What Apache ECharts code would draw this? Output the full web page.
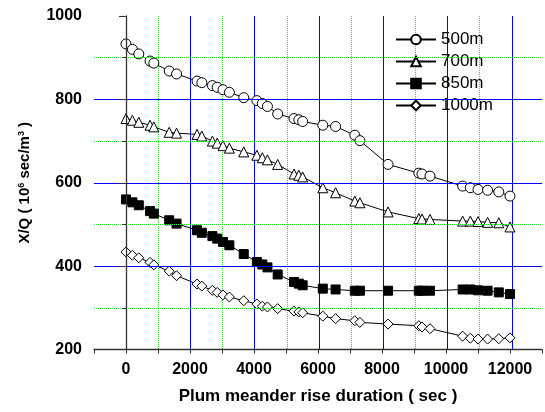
<!DOCTYPE html>
<html>
<head>
<meta charset="utf-8">
<script src="https://cdn.jsdelivr.net/npm/echarts@6/dist/echarts.min.js"></script>
<style>
  html, body { margin: 0; padding: 0; background: #fff; }
  #chart { width: 545px; height: 412px; }
</style>
</head>
<body>
<div id="chart"></div>
<script>
// rise duration (sec), shared by all four curves
const durations = [0, 200, 400, 750, 870, 1350, 1580, 2220, 2370, 2700, 2850, 3030, 3230, 3680, 4090, 4260, 4420, 4740,
  5250, 5400, 5520, 6150, 6550, 7150, 7310, 8190, 9150, 9250, 9500, 10520, 10760, 11000, 11300, 11650, 12000];

const xq500 = [933, 920, 909, 892, 887, 868, 861, 844, 840, 833, 829, 823, 817, 804, 797, 790, 783, 765,
  754, 751, 747, 738, 735, 714, 701, 644, 623, 621, 616, 592, 588, 584, 582, 578, 568];
const xq700 = [754, 750, 745, 738, 734, 721, 719, 716, 712, 700, 695, 689, 683, 674, 666, 660, 655, 644,
  621, 618, 614, 588, 576, 556, 552, 530, 514, 513, 512, 508, 508, 507, 505, 504, 494];
const xq850 = [560, 553, 546, 532, 526, 510, 502, 486, 480, 472, 466, 458, 450, 429, 410, 404, 397, 380,
  362, 358, 354, 346, 344, 341, 341, 341, 341, 341, 341, 344, 344, 342, 341, 337, 333];
const xq1000 = [434, 426, 420, 409, 403, 388, 377, 357, 352, 342, 337, 331, 326, 317, 309, 304, 302, 298,
  292, 290, 288, 280, 274, 269, 265, 261, 257, 254, 250, 232, 227, 225, 225, 226, 228];

const seriesNames = ['500m', '700m', '850m', '1000m'];
const xTicks = [-1000, 13000, 1000];   // min, max, step
const yTicks = [200, 1000, 200];

const FONT = '"Liberation Sans", Arial, sans-serif';
const GREEN = '#22ee22';
const BLUE = '#0000ff';

// plot box
const plot = { left: 94, right: 1, top: 16, bottom: 62.5, width: 545 };
const pxPerUnit = (plot.width - plot.left - plot.right) / (xTicks[1] - xTicks[0]);

function pairs(ys) {
  return durations.map((x, i) => [x, ys[i]]);
}

function makeSeries(name, ys, symbol, size, fill) {
  return {
    name: name,
    type: 'line',
    data: pairs(ys),
    symbol: symbol,
    symbolSize: size,
    showAllSymbol: true,
    lineStyle: { color: '#000', width: 1 },
    itemStyle: { color: fill, borderColor: '#000', borderWidth: 1 },
    emphasis: { disabled: true },
    z: 3
  };
}

// extra grids only carry the vertical grid lines (blue at even thousands, green dotted at odd)
function subGrid(from, to) {
  return {
    left: plot.left + (from - xTicks[0]) * pxPerUnit,
    right: plot.right + (xTicks[1] - to) * pxPerUnit,
    top: plot.top,
    bottom: plot.bottom
  };
}

function lineAxis(gridIndex, from, to, style) {
  return {
    type: 'value', gridIndex: gridIndex, min: from, max: to, interval: 2000,
    axisLine: { show: false }, axisTick: { show: false }, axisLabel: { show: false },
    splitLine: { show: true, lineStyle: style }
  };
}

function blankY(gridIndex) {
  return {
    type: 'value', gridIndex: gridIndex, min: yTicks[0], max: yTicks[1],
    axisLine: { show: false }, axisTick: { show: false }, axisLabel: { show: false }, splitLine: { show: false }
  };
}

const chart = echarts.init(document.getElementById('chart'), null, { renderer: 'canvas' });

const option = {
  animation: false,
  backgroundColor: '#fff',
  textStyle: { fontFamily: FONT },
  grid: [
    { left: plot.left, right: plot.right, top: plot.top, bottom: plot.bottom },
    subGrid(0, 12000),
    subGrid(1000, 11000)
  ],
  legend: {
    orient: 'vertical',
    left: 395,
    top: 31,
    padding: 0,
    itemWidth: 40,
    itemHeight: 12,
    itemGap: 5,
    data: seriesNames,
    textStyle: { fontFamily: FONT, fontSize: 17, color: '#000', lineHeight: 17 }
  },
  xAxis: [
    {
      type: 'value',
      gridIndex: 0,
      min: xTicks[0],
      max: xTicks[1],
      interval: xTicks[2],
      name: 'Plum meander rise duration ( sec )',
      nameLocation: 'middle',
      nameGap: 38,
      nameTextStyle: { fontFamily: FONT, fontSize: 17, fontWeight: 'bold', color: '#000' },
      axisLine: { lineStyle: { color: '#333', width: 1.3 } },
      axisTick: { length: 4, lineStyle: { color: '#333' } },
      axisLabel: {
        margin: 12,
        fontFamily: FONT, fontSize: 16, fontWeight: 'bold', color: '#000',
        formatter: v => (v >= 0 && v % 2000 === 0 && v <= 12000) ? String(v) : ''
      },
      splitLine: { show: false },
      z: 5
    },
    lineAxis(1, 0, 12000, { color: BLUE, width: 1, type: 'solid' }),
    lineAxis(2, 1000, 11000, { color: GREEN, width: 1, type: [1, 1] })
  ],
  yAxis: [
    {
      type: 'value',
      gridIndex: 0,
      min: yTicks[0],
      max: yTicks[1],
      interval: yTicks[2],
      name: 'X/Q ( 10{sup|6} sec/m{sup|3} )',
      nameLocation: 'middle',
      nameGap: 62,
      nameTextStyle: {
        fontFamily: FONT, fontSize: 15, fontWeight: 'bold', color: '#000',
        rich: {
          sup: { fontFamily: FONT, fontSize: 9, fontWeight: 'bold', color: '#000', verticalAlign: 'top', padding: [0, 0, 6, 0] }
        }
      },
      axisLine: { show: true, lineStyle: { color: '#333', width: 1.3 } },
      axisTick: { show: true, length: 7, lineStyle: { color: '#333' } },
      minorTick: { show: true, splitNumber: 2, length: 4, lineStyle: { color: '#333' } },
      axisLabel: { margin: 12, fontFamily: FONT, fontSize: 16, fontWeight: 'bold', color: '#000', formatter: v => String(v) },
      splitLine: { show: true, showMaxLine: false, lineStyle: { color: BLUE, width: 1 } },
      minorSplitLine: { show: true, lineStyle: { color: GREEN, width: 1, type: [1, 1] } },
      z: 5
    },
    blankY(1),
    blankY(2)
  ],
  series: [
    makeSeries(seriesNames[0], xq500, 'circle', 10, '#fff'),
    makeSeries(seriesNames[1], xq700, 'triangle', 10, '#fff'),
    makeSeries(seriesNames[2], xq850, 'rect', 9, '#000'),
    makeSeries(seriesNames[3], xq1000, 'diamond', 10, '#fff')
  ]
};

chart.setOption(option);
</script>
</body>
</html>
